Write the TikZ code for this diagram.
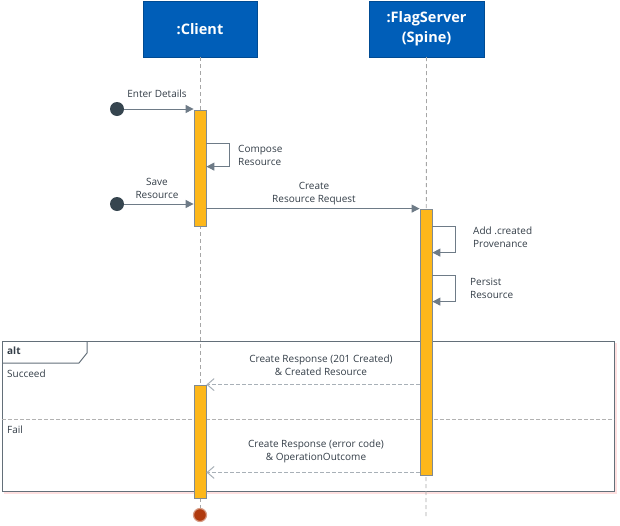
\documentclass[tikz,border=0pt]{standalone}
\usepackage{fontspec}
\setmainfont{Open Sans}
\usetikzlibrary{arrows.meta,positioning,calc}
\definecolor{headblue}{HTML}{005EB8}
\definecolor{barorange}{HTML}{FDB71A}
\definecolor{bargray}{HTML}{7F8A93}
\definecolor{msggray}{HTML}{6E7B87}
\definecolor{dotgray}{HTML}{36454F}
\definecolor{txtgray}{HTML}{333D47}
\definecolor{endred}{HTML}{B03A0E}

\begin{document}
\begin{tikzpicture}[x=1pt,y=-1pt,
    head/.style={rectangle,fill=headblue,draw=headblue!80!black,text=white,align=center,
      font=\bfseries\fontsize{14.5}{20}\selectfont,minimum width=114pt,minimum height=56pt},
    lifeline/.style={draw=gray!70,dash pattern=on 4pt off 3pt,line width=0.8pt},
    bar/.style={rectangle,fill=barorange,draw=bargray,line width=0.8pt,minimum width=12pt,inner sep=0pt},
    startdot/.style={circle,fill=dotgray,minimum size=14pt,inner sep=0pt},
    enddot/.style={circle,fill=endred,draw=endred!50!white,line width=1.2pt,minimum size=13pt,inner sep=0pt},
    msg/.style={draw=msggray,line width=1pt,-{Triangle[length=8pt,width=8pt]}},
    reply/.style={draw=msggray!60,line width=1pt,dash pattern=on 4pt off 2pt,-{Straight Barb[length=7pt,width=12pt]}},
    lbl/.style={text=txtgray,font=\fontsize{10}{13}\selectfont,align=center,inner sep=0pt},
    frame/.style={draw=msggray!90!black,line width=1pt}]
    \useasboundingbox (0,0) rectangle (620,525);

    \node (client) [head] at (200,29) {:Client};
    \node (server) [head,minimum width=115pt] at (426.5,29) {:FlagServer\\(Spine)};

    % alt frame
    \draw[red!12,line width=2pt] (4,493) -- (616,493) -- (616,343);
    \draw[frame] (2,341) rectangle (614,491);
    \draw[frame] (2,363) -- (79,363) -- (87,353) -- (87,341);
    \draw[draw=gray!60,dash pattern=on 4pt off 2pt] (2,419) -- (614,419);

    % Lifelines
    \node (end) [enddot] at (200,515) {};
    \coordinate (serverend) at (426,517);
    \draw[lifeline] (client.south) -- (end.north);
    \draw[lifeline] (server.south) -- (serverend);

    \node (bar1) [bar,minimum height=116pt] at (200,168) {};
    \node (bar2) [bar,minimum height=266pt] at (426,342) {};
    \node (bar3) [bar,minimum height=113pt] at (200,441.5) {};

    \node (enter) [startdot] at (117,109) {};
    \node (save) [startdot] at (117,204) {};

    % Arrows
    \draw[msg] (enter) -- (enter -| bar1.west);
    \draw[msg] (save) -- (save -| bar1.west);
    \draw[msg] (bar1.north east) ++(0,34) -- ++(23,0) -- ++(0,23) -- ++(-23,0);
    \draw[msg] (bar2.north west -| bar1.east) -- (bar2.north west);
    \draw[msg] (bar2.north east) ++(0,18) -- ++(23,0) -- ++(0,26) -- ++(-23,0);
    \draw[msg] (bar2.north east) ++(0,67) -- ++(23,0) -- ++(0,26) -- ++(-23,0);
    \draw[reply] (bar3.north -| bar2.west) -- (bar3.north east);
    \coordinate (errfrom) at ([yshift=3pt]bar2.south west);
    \draw[reply] (errfrom) -- (errfrom -| bar3.east);

    % Labels
    \node (enterlbl) [lbl] at (157,94) {Enter Details};
    \node (composelbl) [lbl,align=left,anchor=west] at (238,155) {Compose\\Resource};
    \node (savelbl) [lbl] at (157,188.5) {Save\\Resource};
    \node (reqlbl) [lbl] at (314,193.5) {Create\\Resource Request};
    \node (provlbl) [lbl,align=left,anchor=west] at (473,237.5) {Add .created\\Provenance};
    \node (persistlbl) [lbl,align=left,anchor=west] at (470,288.5) {Persist\\Resource};
    \node (oklbl) [lbl] at (321,365.5) {Create Response (201 Created)\\\& Created Resource};
    \node (errlbl) [lbl] at (316,451.5) {Create Response (error code)\\\& OperationOutcome};
    \node (altlbl) [lbl,font=\bfseries\fontsize{10}{13}\selectfont,anchor=west] at (7,351) {alt};
    \node (succlbl) [lbl,anchor=west] at (7,374) {Succeed};
    \node (faillbl) [lbl,anchor=west] at (7,430) {Fail};
\end{tikzpicture}
\end{document}
